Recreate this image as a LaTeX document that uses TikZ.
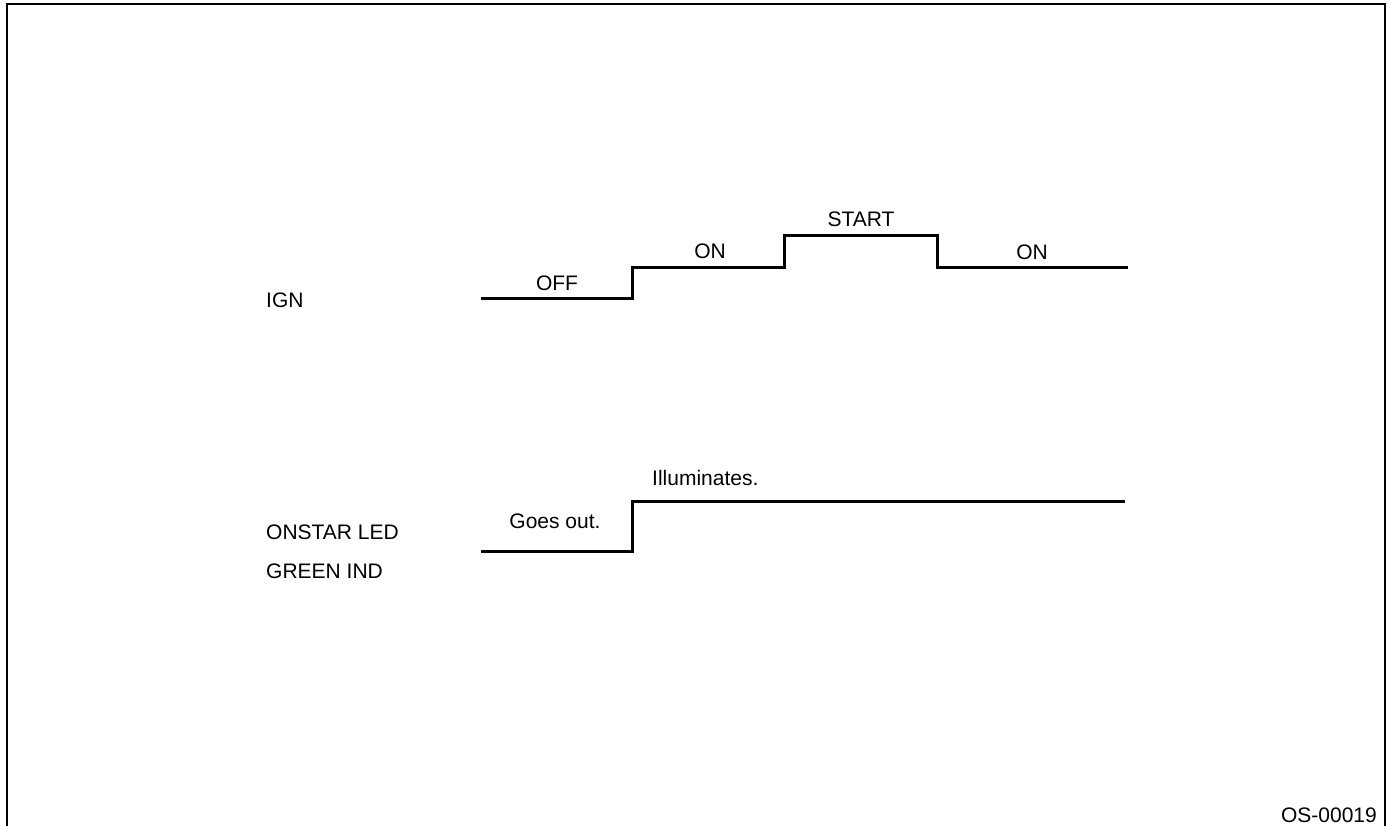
\documentclass[tikz,border=0pt]{standalone}
\usepackage{fontspec}
\setmainfont{Liberation Sans}
\begin{document}
\begin{tikzpicture}[x=1pt,y=-1pt,
  lbl/.style={font=\fontsize{21}{24}\selectfont, inner sep=0pt},
  wave/.style={line width=3pt, line join=miter, line cap=butt},
  frame/.style={line width=2pt}]
\useasboundingbox (0,0) rectangle (1390,826);
% frame
\coordinate (f1) at (7,826);
\coordinate (f2) at (7,4);
\coordinate (f3) at (1385,4);
\coordinate (f4) at (1385,826);
\draw[frame] (f1) -- (f2) -- (f3) -- (f4);
% IGN waveform
\coordinate (i0) at (481,299);
\coordinate (i1) at (632,299);
\coordinate (i2) at (632,268);
\coordinate (i3) at (784,268);
\coordinate (i4) at (784,236);
\coordinate (i5) at (937,236);
\coordinate (i6) at (937,268);
\coordinate (i7) at (1128,268);
\draw[wave] (i0) -- (i1) -- (i2) -- (i3) -- (i4) -- (i5) -- (i6) -- (i7);
% ONSTAR waveform
\coordinate (o0) at (481,551);
\coordinate (o1) at (632,551);
\coordinate (o2) at (632,501);
\coordinate (o3) at (1125,501);
\draw[wave] (o0) -- (o1) -- (o2) -- (o3);
% labels
\node[lbl, anchor=base west] (ign) at (266,308) {IGN};
\node[lbl, anchor=base west] (onstar) at (266,539) {ONSTAR LED};
\node[lbl, anchor=base west] (green) at (266,578) {GREEN IND};
\node[lbl, anchor=base] (off) at (557,291) {OFF};
\node[lbl, anchor=base] (on1) at (710,259) {ON};
\node[lbl, anchor=base] (start) at (861,227) {START};
\node[lbl, anchor=base] (on2) at (1032,260) {ON};
\node[lbl, anchor=base] (goes) at (555,528) {Goes out.};
\node[lbl, anchor=base west] (illum) at (652,485) {Illuminates.};
\node[lbl, anchor=base east] (code) at (1377,822) {OS-00019};
\end{tikzpicture}
\end{document}
